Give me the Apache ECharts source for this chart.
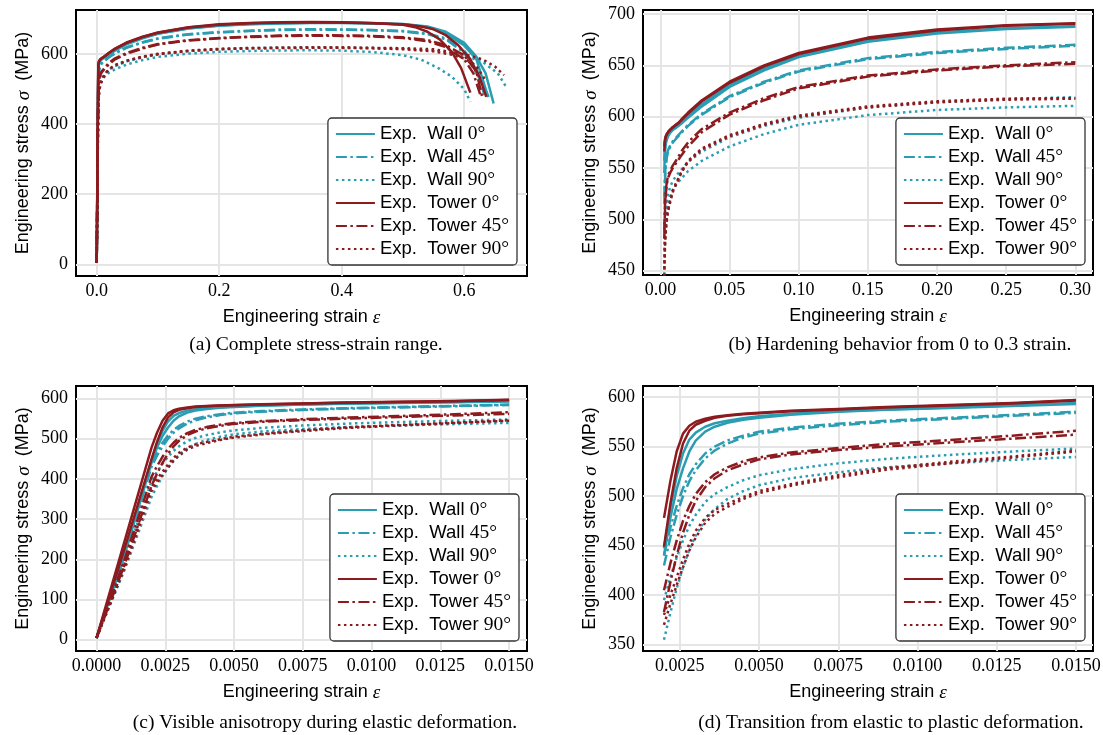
<!DOCTYPE html>
<html>
<head>
<meta charset="utf-8">
<script src="https://cdn.jsdelivr.net/npm/echarts/dist/echarts.min.js"></script>
<style>
html, body { margin: 0; padding: 0; background: #fff; }
#main { width: 1103px; height: 735px; }
</style>
</head>
<body>
<div id="main"></div>
<script>
// strain points shared by every specimen up to 0.45
var strainGrid = [0, 0.001, 0.002, 0.0022, 0.0024, 0.0026, 0.0028, 0.003, 0.0033, 0.0036, 0.004, 0.0045,
    0.005, 0.006, 0.0075, 0.009, 0.011, 0.013, 0.015, 0.02, 0.03, 0.05, 0.075, 0.1, 0.15, 0.2, 0.25,
    0.3, 0.35, 0.4, 0.45];

// stress (MPa) of each specimen on strainGrid, then [strain, stress] up to fracture
var wall0A = [4, 215, 447, 488, 520, 543, 557, 564, 570, 573.5, 576, 578.5, 580.5, 583, 585.5, 587.5, 589.5, 591.5, 594, 601, 612, 631, 647, 659, 674, 682, 686, 688, 689.5, 689.5, 688];
var wall0ATail = [[0.5, 686], [0.54, 679], [0.57, 664], [0.6, 632], [0.62, 592], [0.635, 545], [0.648, 459]];
var wall0B = [4, 205, 440, 478, 507, 528, 545, 556, 565, 570, 574, 577, 579, 582, 585, 587, 589, 591, 593, 599, 610, 629, 645, 658, 673, 681, 685.5, 687.5, 689, 689, 687.5];
var wall0BTail = [[0.5, 685], [0.54, 677], [0.57, 660], [0.6, 625], [0.62, 585], [0.639, 478]];

var wall45A = [4, 212, 440, 468, 490, 508, 522, 532, 543, 550, 556, 561, 565, 569, 573, 576, 579, 582, 585, 592, 603, 620, 634, 645, 657, 663, 667, 670, 671, 670.5, 669];
var wall45ATail = [[0.5, 666], [0.54, 659], [0.57, 645], [0.6, 610], [0.62, 560], [0.633, 483]];
var wall45B = [4, 205, 430, 458, 481, 500, 515, 526, 538, 546, 553, 559, 563, 567.5, 571.5, 575, 578, 581, 584, 591, 602, 619, 633, 644, 656, 662, 666, 669, 670, 669.5, 668];
var wall45BTail = [[0.5, 665], [0.54, 657], [0.57, 642], [0.6, 604], [0.625, 530], [0.64, 478]];

var wall90A = [4, 190, 395, 418, 438, 455, 470, 481, 494, 502, 509, 516, 521, 527, 533, 537.5, 541.5, 545, 548, 556, 566, 580, 591, 599, 609, 614, 617, 619, 619.5, 619, 617.5];
var wall90ATail = [[0.5, 615], [0.55, 610], [0.6, 596], [0.63, 578], [0.655, 545], [0.67, 502]];
var wall90B = [4, 170, 355, 382, 407, 428, 446, 460, 476, 487, 497, 505, 511, 518, 524, 529, 533, 536.5, 539.5, 547, 557, 571, 583, 592, 601.5, 606.5, 609, 610.5, 611, 610, 606];
var wall90BTail = [[0.5, 597], [0.53, 584], [0.56, 558], [0.58, 535], [0.6, 500], [0.61, 464]];

var tower0A = [4, 240, 478, 515, 545, 563, 571, 575, 578, 580, 581.5, 583, 584, 586, 588, 590, 592, 594, 597, 604, 616, 634, 650, 662, 677, 685, 689, 691, 692, 691, 689];
var tower0ATail = [[0.5, 684], [0.52, 677], [0.54, 664], [0.56, 642], [0.58, 606], [0.595, 560], [0.61, 490]];
var tower0B = [4, 222, 449, 492, 528, 553, 566, 572, 576, 579, 581, 582.5, 583.5, 585.5, 587.5, 589.5, 591.5, 593.5, 596.5, 603, 615, 633, 649, 661, 676, 684, 688.5, 690.5, 691, 690, 688];
var tower0BTail = [[0.5, 685], [0.53, 679], [0.55, 671], [0.57, 654], [0.59, 626], [0.61, 585], [0.625, 535], [0.636, 478]];

var tower45A = [4, 195, 405, 432, 455, 475, 490, 502, 514, 522, 529, 535, 539, 544, 548.5, 552.5, 556.5, 561, 566, 575, 588, 604, 618, 629, 640, 646, 650, 653, 654, 653.5, 652];
var tower45ATail = [[0.5, 648], [0.54, 640], [0.57, 626], [0.6, 596], [0.62, 550], [0.63, 473]];
var tower45B = [4, 182, 383, 413, 440, 463, 481, 495, 509, 518, 526, 532, 537, 542, 546.5, 550, 554, 558, 562, 571, 585, 602, 616, 627.5, 639, 645, 649, 651.5, 652.5, 652, 650.5];
var tower45BTail = [[0.5, 646], [0.54, 637], [0.57, 620], [0.6, 585], [0.615, 545], [0.627, 480]];

var tower90A = [4, 180, 380, 400, 418, 436, 452, 465, 478, 486, 492, 499, 505, 512, 521, 528, 534.5, 540, 546, 557, 569, 582, 593, 601, 610, 615, 617.5, 618, 619, 619, 618];
var tower90ATail = [[0.5, 617], [0.55, 614], [0.6, 600], [0.63, 585], [0.65, 565], [0.665, 540]];
var tower90B = [4, 175, 370, 391, 410, 428, 445, 458, 473, 482, 489, 497, 503, 510.5, 519, 526.5, 533, 539, 545, 556, 568, 581, 592, 600, 609, 614, 616.5, 617.5, 618, 618, 616.5];
var tower90BTail = [[0.5, 614], [0.55, 608], [0.58, 598], [0.6, 588], [0.62, 565], [0.635, 525]];

var legendNames = ['Exp.  Wall 0°', 'Exp.  Wall 45°', 'Exp.  Wall 90°', 'Exp.  Tower 0°', 'Exp.  Tower 45°', 'Exp.  Tower 90°'];

// tick values per panel (a)..(d)
var xTicksA = [0, 0.2, 0.4, 0.6];
var yTicksA = [0, 200, 400, 600];
var xTicksB = [0, 0.05, 0.1, 0.15, 0.2, 0.25, 0.3];
var yTicksB = [450, 500, 550, 600, 650, 700];
var xTicksC = [0, 0.0025, 0.005, 0.0075, 0.01, 0.0125, 0.015];
var yTicksC = [0, 100, 200, 300, 400, 500, 600];
var xTicksD = [0.0025, 0.005, 0.0075, 0.01, 0.0125, 0.015];
var yTicksD = [350, 400, 450, 500, 550, 600];

var captions = ['(a) Complete stress-strain range.', '(b) Hardening behavior from 0 to 0.3 strain.',
    '(c) Visible anisotropy during elastic deformation.', '(d) Transition from elastic to plastic deformation.'];

var teal = '#2a9db3';
var red = '#8c1b1f';
var dashDot = [11, 3.5, 2.5, 3.5];
var dotted = [2.5, 3.5];

var specimens = [
    {name: legendNames[0], color: teal, type: 'solid', pre: wall0A, tail: wall0ATail},
    {name: legendNames[0], color: teal, type: 'solid', pre: wall0B, tail: wall0BTail},
    {name: legendNames[1], color: teal, type: dashDot, pre: wall45A, tail: wall45ATail},
    {name: legendNames[1], color: teal, type: dashDot, pre: wall45B, tail: wall45BTail},
    {name: legendNames[2], color: teal, type: dotted, pre: wall90A, tail: wall90ATail},
    {name: legendNames[2], color: teal, type: dotted, pre: wall90B, tail: wall90BTail},
    {name: legendNames[3], color: red, type: 'solid', pre: tower0A, tail: tower0ATail},
    {name: legendNames[3], color: red, type: 'solid', pre: tower0B, tail: tower0BTail},
    {name: legendNames[4], color: red, type: dashDot, pre: tower45A, tail: tower45ATail},
    {name: legendNames[4], color: red, type: dashDot, pre: tower45B, tail: tower45BTail},
    {name: legendNames[5], color: red, type: dotted, pre: tower90A, tail: tower90ATail},
    {name: legendNames[5], color: red, type: dotted, pre: tower90B, tail: tower90BTail}
];

var panels = [
    {grid: {left: 76, top: 10, width: 451, height: 266}, xMin: -0.0338, xMax: 0.7025, yMin: -33.4, yMax: 726,
        xTicks: xTicksA, yTicks: yTicksA, digits: 1, lo: 0, hi: 1, legend: {right: 586, bottom: 470}, cap: [316, 345]},
    {grid: {left: 643, top: 10, width: 450, height: 265}, xMin: -0.0126, xMax: 0.3128, yMin: 445.7, yMax: 703.9,
        xTicks: xTicksB, yTicks: yTicksB, digits: 2, lo: 0.0028, hi: 0.3, legend: {right: 18, bottom: 470}, cap: [900, 345]},
    {grid: {left: 76, top: 386, width: 451, height: 265}, xMin: -0.000745, xMax: 0.01565, yMin: -28.3, yMax: 631.3,
        xTicks: xTicksC, yTicks: yTicksC, digits: 4, lo: 0, hi: 0.015, legend: {right: 584, bottom: 94}, cap: [325, 723]},
    {grid: {left: 643, top: 386, width: 450, height: 265}, xMin: 0.001337, xMax: 0.01554, yMin: 343.6, yMax: 611.1,
        xTicks: xTicksD, yTicks: yTicksD, digits: 4, lo: 0.002, hi: 0.015, legend: {right: 18, bottom: 94}, cap: [891, 723]}
];

var sans = '"Liberation Sans", Arial, sans-serif';
var serif = '"Liberation Serif", "Times New Roman", serif';

var option = {
    animation: false,
    backgroundColor: '#fff',
    grid: [], xAxis: [], yAxis: [], legend: [], series: [], graphic: []
};

panels.forEach(function (p, i) {
    option.grid.push(Object.assign({show: true, borderColor: '#000', borderWidth: 2, backgroundColor: 'transparent',
        outerBoundsMode: 'none'}, p.grid));
    option.xAxis.push({
        type: 'value', gridIndex: i, min: p.xMin, max: p.xMax,
        name: '{s|Engineering strain }{m|ε}', nameLocation: 'middle', nameGap: 32,
        nameTextStyle: {rich: {s: {fontFamily: sans, fontSize: 18, color: '#000'},
            m: {fontFamily: serif, fontStyle: 'italic', fontSize: 19, color: '#000'}}},
        axisLine: {show: false},
        axisTick: {show: false, customValues: p.xTicks},
        axisLabel: {customValues: p.xTicks, fontFamily: serif, fontSize: 18, color: '#000', margin: 6,
            formatter: function (v) { return v.toFixed(p.digits); }},
        splitLine: {show: true, lineStyle: {color: '#e5e5e5', width: 2}}
    });
    option.yAxis.push({
        type: 'value', gridIndex: i, min: p.yMin, max: p.yMax,
        name: '{s|Engineering stress }{m|σ}{s|  (MPa)}', nameLocation: 'middle', nameGap: 43,
        nameTextStyle: {rich: {s: {fontFamily: sans, fontSize: 18, color: '#000'},
            m: {fontFamily: serif, fontStyle: 'italic', fontSize: 19, color: '#000'}}},
        axisLine: {show: false},
        axisTick: {show: false, customValues: p.yTicks},
        axisLabel: {customValues: p.yTicks, fontFamily: serif, fontSize: 18, color: '#000', margin: 8},
        splitLine: {show: true, lineStyle: {color: '#e5e5e5', width: 2}}
    });
    option.legend.push({
        data: legendNames, orient: 'vertical', right: p.legend.right, bottom: p.legend.bottom,
        itemWidth: 39, itemHeight: 14, itemGap: 3, itemTextGap: 9, padding: [6, 8, 6, 7],
        backgroundColor: '#fff', borderColor: '#333', borderWidth: 1.3, borderRadius: 4,
        selectedMode: false, itemStyle: {opacity: 0},
        formatter: function (name) {
            var m = name.match(/^(.*?)(\d+°)$/);
            return '{s|' + m[1] + '}{d|' + m[2] + '}';
        },
        textStyle: {rich: {s: {fontFamily: sans, fontSize: 18.5, lineHeight: 18, color: '#000'},
            d: {fontFamily: serif, fontSize: 19.5, lineHeight: 18, color: '#000'}}}
    });
    specimens.forEach(function (s) {
        var pts = strainGrid.map(function (e, k) { return [e, s.pre[k]]; }).concat(s.tail)
            .filter(function (q) { return q[0] >= p.lo && q[0] <= p.hi; });
        option.series.push({
            type: 'line', name: s.name, xAxisIndex: i, yAxisIndex: i, data: pts,
            showSymbol: false, symbol: 'none', smooth: false, clip: true,
            lineStyle: {color: s.color, width: 2.5, type: s.type, join: 'round'},
            itemStyle: {color: s.color}
        });
    });
    option.graphic.push({
        type: 'text', x: p.cap[0], y: p.cap[1],
        style: {text: captions[i], fill: '#000', font: '19.5px ' + serif, align: 'center', verticalAlign: 'middle'}
    });
});

var myChart = echarts.init(document.getElementById('main'));
myChart.setOption(option);
</script>
</body>
</html>
